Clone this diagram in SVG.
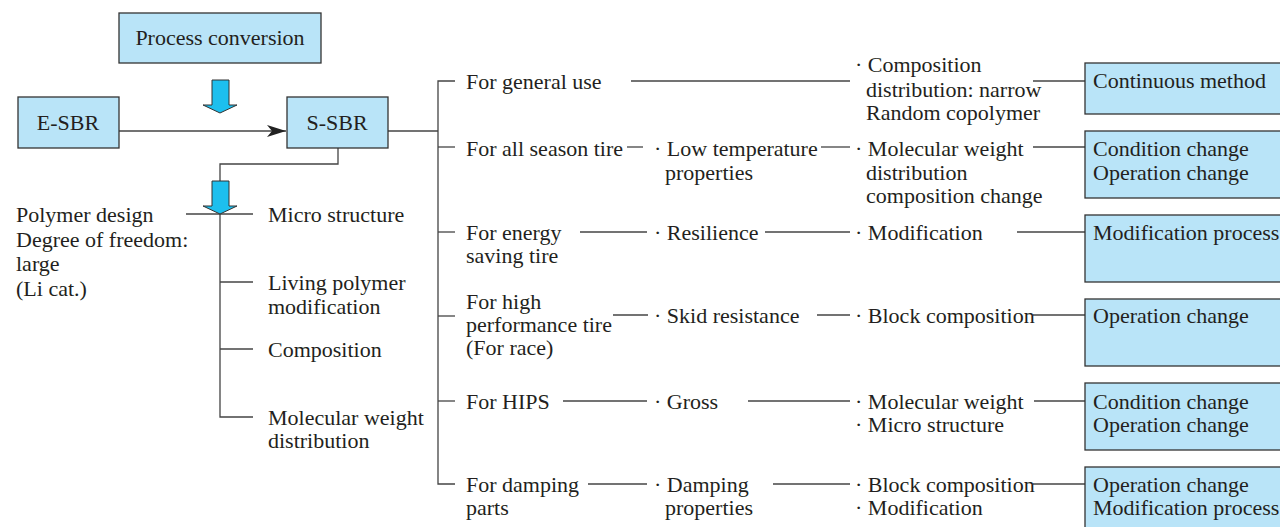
<svg xmlns="http://www.w3.org/2000/svg" width="1280" height="527" viewBox="0 0 1280 527" font-family="'Liberation Serif', 'Times New Roman', serif">
<style>
text{font-family:'Liberation Serif','Times New Roman',serif;font-size:22px;fill:#231f20}
.box{fill:#b9e4f8;stroke:#333;stroke-width:1.3}
.ln{stroke:#444;stroke-width:1.3;fill:none}
.blu{fill:#1dbfee;stroke:#333;stroke-width:1}
.c{text-anchor:middle}
</style>
<defs>
<marker id="ah" markerUnits="userSpaceOnUse" markerWidth="20" markerHeight="14" refX="19" refY="6" orient="auto">
<path d="M0,0 L19,6 L0,12 L5,6 z" fill="#222"/>
</marker>
</defs>
<rect width="1280" height="527" fill="#fff"/>

<g id="connectors">
<line class="ln" x1="119" y1="131" x2="286" y2="131" marker-end="url(#ah)"/>
<polyline class="ln" points="388,131 438,131"/>
<polyline class="ln" points="455,81 438,81 438,484 455,484"/>
<line class="ln" x1="438" y1="147" x2="455" y2="147"/>
<line class="ln" x1="438" y1="232" x2="455" y2="232"/>
<line class="ln" x1="438" y1="316" x2="455" y2="316"/>
<line class="ln" x1="438" y1="401" x2="455" y2="401"/>
<polyline class="ln" points="338,148 338,164 220,164 220,181"/>
<line class="ln" x1="186" y1="214" x2="253" y2="214"/>
<polyline class="ln" points="220,214 220,417 253,417"/>
<line class="ln" x1="220" y1="282" x2="253" y2="282"/>
<line class="ln" x1="220" y1="349" x2="253" y2="349"/>
<line class="ln" x1="631" y1="81" x2="850" y2="81"/>
<line class="ln" x1="1033" y1="81" x2="1085" y2="81"/>
<line class="ln" x1="627" y1="147" x2="643" y2="147"/>
<line class="ln" x1="821" y1="147" x2="850" y2="147"/>
<line class="ln" x1="1033" y1="147" x2="1085" y2="147"/>
<line class="ln" x1="580" y1="232" x2="647" y2="232"/>
<line class="ln" x1="765" y1="232" x2="850" y2="232"/>
<line class="ln" x1="1017" y1="232" x2="1085" y2="232"/>
<line class="ln" x1="613" y1="315" x2="648" y2="315"/>
<line class="ln" x1="817" y1="315" x2="850" y2="315"/>
<line class="ln" x1="1033" y1="315" x2="1085" y2="315"/>
<line class="ln" x1="563" y1="401" x2="647" y2="401"/>
<line class="ln" x1="748" y1="401" x2="850" y2="401"/>
<line class="ln" x1="1034" y1="401" x2="1085" y2="401"/>
<line class="ln" x1="588" y1="484" x2="647" y2="484"/>
<line class="ln" x1="773" y1="484" x2="850" y2="484"/>
<line class="ln" x1="1033" y1="484" x2="1085" y2="484"/>
</g>

<g id="arrow1"><polygon class="blu" points="212,80 229,80 229,105 237,105 220,113 203,105 212,105"/></g>
<g id="arrow2"><polygon class="blu" points="212,181 229,181 229,206 237,206 220,214 203,206 212,206"/></g>

<g id="process-conversion"><rect class="box" x="119" y="13" width="202" height="50"/><text class="c" x="220" y="45">Process conversion</text></g>
<g id="e-sbr"><rect class="box" x="18" y="97" width="101" height="51"/><text class="c" x="68" y="130">E-SBR</text></g>
<g id="s-sbr"><rect class="box" x="287" y="97" width="101" height="51"/><text class="c" x="337" y="130">S-SBR</text></g>

<g id="polymer-design"><text x="16" y="222">Polymer design</text><text x="16" y="247">Degree of freedom:</text><text x="16" y="271">large</text><text x="16" y="296">(Li cat.)</text></g>
<g id="micro-structure"><text x="268" y="222">Micro structure</text></g>
<g id="living-polymer"><text x="268" y="290">Living polymer</text><text x="268" y="314">modification</text></g>
<g id="composition"><text x="268" y="357">Composition</text></g>
<g id="mwd"><text x="268" y="425">Molecular weight</text><text x="268" y="448">distribution</text></g>

<g id="use-general"><text x="466" y="89">For general use</text></g>
<g id="use-allseason"><text x="466" y="156">For all season tire</text></g>
<g id="use-energy"><text x="466" y="240">For energy</text><text x="466" y="263">saving tire</text></g>
<g id="use-highperf"><text x="466" y="309">For high</text><text x="466" y="332">performance tire</text><text x="466" y="355">(For race)</text></g>
<g id="use-hips"><text x="466" y="409">For HIPS</text></g>
<g id="use-damping"><text x="466" y="492">For damping</text><text x="466" y="515">parts</text></g>

<g id="prop-lowtemp"><text x="654" y="156">· Low temperature</text><text x="665" y="180">properties</text></g>
<g id="prop-resilience"><text x="654" y="240">· Resilience</text></g>
<g id="prop-skid"><text x="654" y="323">· Skid resistance</text></g>
<g id="prop-gross"><text x="654" y="409">· Gross</text></g>
<g id="prop-damping"><text x="654" y="492">· Damping</text><text x="665" y="515">properties</text></g>

<g id="tech-composition"><text x="855" y="72">· Composition</text><text x="866" y="97">distribution: narrow</text><text x="866" y="120">Random copolymer</text></g>
<g id="tech-mwd"><text x="855" y="156">· Molecular weight</text><text x="866" y="180">distribution</text><text x="866" y="203">composition change</text></g>
<g id="tech-modification"><text x="855" y="240">· Modification</text></g>
<g id="tech-block"><text x="855" y="323">· Block composition</text></g>
<g id="tech-mw"><text x="855" y="409">· Molecular weight</text><text x="855" y="432">· Micro structure</text></g>
<g id="tech-block2"><text x="855" y="492">· Block composition</text><text x="855" y="515">· Modification</text></g>

<g id="proc-continuous"><rect class="box" x="1085" y="63" width="210" height="51"/><text x="1093" y="88">Continuous method</text></g>
<g id="proc-condition1"><rect class="box" x="1085" y="131" width="210" height="67"/><text x="1093" y="156">Condition change</text><text x="1093" y="180">Operation change</text></g>
<g id="proc-modification"><rect class="box" x="1085" y="215" width="210" height="67"/><text x="1093" y="240">Modification process</text></g>
<g id="proc-operation"><rect class="box" x="1085" y="299" width="210" height="67"/><text x="1093" y="323">Operation change</text></g>
<g id="proc-condition2"><rect class="box" x="1085" y="383" width="210" height="67"/><text x="1093" y="409">Condition change</text><text x="1093" y="432">Operation change</text></g>
<g id="proc-opmod"><rect class="box" x="1085" y="467" width="210" height="67"/><text x="1093" y="492">Operation change</text><text x="1093" y="515">Modification process</text></g>
</svg>
